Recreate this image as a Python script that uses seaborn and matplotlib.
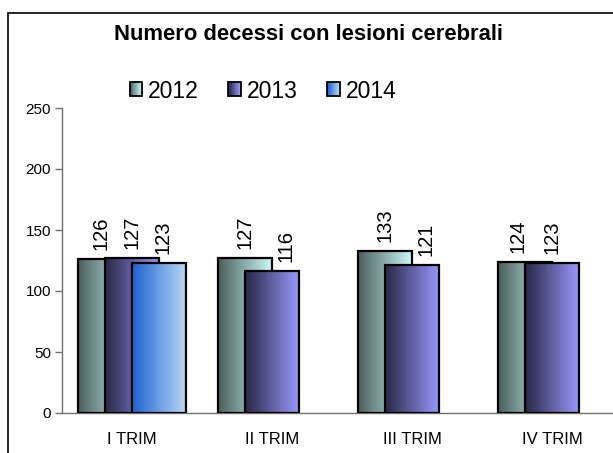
import numpy as np
import pandas as pd
import matplotlib
matplotlib.use('Agg')
import matplotlib.pyplot as plt
import seaborn as sns
from matplotlib.patches import Rectangle
from matplotlib.colors import LinearSegmentedColormap
from matplotlib.legend_handler import HandlerBase

categories = ['I TRIM', 'II TRIM', 'III TRIM', 'IV TRIM']
years = ['2012', '2013', '2014']
v2012 = [126, 127, 133, 124]
v2013 = [127, 116, 121, 123]
v2014 = [123, None, None, None]
title = 'Numero decessi con lesioni cerebrali'
yticks = [0, 50, 100, 150, 200, 250]

grad = {'2012': ('#4b5f5b', '#cdfcfc'),
        '2013': ('#272745', '#9a9aff'),
        '2014': ('#1b62d2', '#bcdaf2')}

# horizontal nudges (points) of some data labels, as placed in the original
label_nudge = {('2012', 0): -3, ('2014', 0): 3, ('2013', 1): 10,
               ('2013', 2): 10, ('2012', 3): -5}

rows = []
for yr, vals in zip(years, [v2012, v2013, v2014]):
    for c, v in zip(categories, vals):
        if v is not None:
            rows.append({'trim': c, 'year': yr, 'value': v})
df = pd.DataFrame(rows)

sns.set_theme(style='white')
plt.rcParams['font.family'] = ['Liberation Sans', 'DejaVu Sans']
plt.rcParams['text.color'] = 'black'
plt.rcParams['xtick.color'] = 'black'
plt.rcParams['ytick.color'] = 'black'
plt.rcParams['xtick.labelcolor'] = 'black'
plt.rcParams['ytick.labelcolor'] = 'black'

fig = plt.figure(figsize=(6.13, 4.53), dpi=100)
ax = fig.add_axes([62/613, 40/453, 560/613, 305/453])

sns.barplot(data=df, x='trim', y='value', hue='year', order=categories,
            hue_order=years, width=0.58, dodge=True, ax=ax, legend=False,
            saturation=1, edgecolor='black', linewidth=1.6, errorbar=None)

cmaps = {y: LinearSegmentedColormap.from_list(y, grad[y]) for y in years}
g = np.linspace(0, 1, 256).reshape(1, -1)
for k, (yr, cont) in enumerate(zip(years, ax.containers)):
    for bar in cont:
        h = bar.get_height()
        if not np.isfinite(h):
            continue
        x0 = bar.get_x(); w = bar.get_width(); cx = x0 + w / 2
        gi = int(round(cx))
        bar.set_x(cx - w); bar.set_width(2 * w)
        bar.set_facecolor('none')
        bar.set_zorder(3 + k + 0.5)
        ax.imshow(g, cmap=cmaps[yr], extent=(cx - w, cx + w, 0, h),
                  aspect='auto', zorder=3 + k, interpolation='bilinear')
        ax.annotate(f'{int(h)}', (cx, h), xytext=(label_nudge.get((yr, gi), 0), 6.5),
                    textcoords='offset points', rotation=90, ha='center', va='bottom',
                    fontsize=14.5, color='black')

ax.set_xlim(-0.5, 3.5)
ax.set_ylim(0, 250)
ax.set_aspect('auto')
ax.set_yticks(yticks)
ax.set_yticklabels([str(t) for t in yticks], fontsize=11)
ax.set_xticks(range(len(categories)))
ax.set_xticklabels(categories, fontsize=12)
ax.set_xticks([-0.5, 0.5, 1.5, 2.5, 3.5], minor=True)
ax.tick_params(axis='x', which='major', length=0, pad=14)
ax.tick_params(axis='x', which='minor', length=6, direction='out', color='#707070', width=1)
ax.tick_params(axis='y', length=5, direction='out', color='#707070', width=1, pad=3, left=True)
ax.set_xlabel(''); ax.set_ylabel('')
for s in ['top', 'right']:
    ax.spines[s].set_visible(False)
for s in ['left', 'bottom']:
    ax.spines[s].set_color('#707070')
    ax.spines[s].set_linewidth(1.0)
ax.grid(False)


class GradHandler(HandlerBase):
    def __init__(self, c0, c1):
        super().__init__()
        self.cmap = LinearSegmentedColormap.from_list('h', [c0, c1])

    def create_artists(self, legend, orig_handle, xdescent, ydescent, width, height, fontsize, trans):
        arts = []
        n = 16
        for i in range(n):
            arts.append(Rectangle((-xdescent + i * width / n, -ydescent), width / n, height,
                                  facecolor=self.cmap(i / (n - 1)), edgecolor='none', transform=trans))
        arts.append(Rectangle((-xdescent, -ydescent), width, height, fill=False,
                              edgecolor='black', lw=1.3, transform=trans))
        return arts


handles = [Rectangle((0, 0), 1, 1) for _ in years]
hmap = {h: GradHandler(*grad[y]) for h, y in zip(handles, years)}
fig.legend(handles, years, handler_map=hmap, loc='center', bbox_to_anchor=(263/613, 1 - 91/453),
           ncol=3, frameon=False, fontsize=16.5, handlelength=0.55, handleheight=0.55,
           handletextpad=0.25, columnspacing=1.3)

fig.text(308/613, 1 - 35/453, title, ha='center', va='center', fontsize=15.8, weight='bold')

fig.add_artist(Rectangle((8/613, -1), 2, 1 + (1 - 13/453), transform=fig.transFigure,
                         fill=False, edgecolor='black', lw=1.2))

fig.savefig('out.png', dpi=100)
